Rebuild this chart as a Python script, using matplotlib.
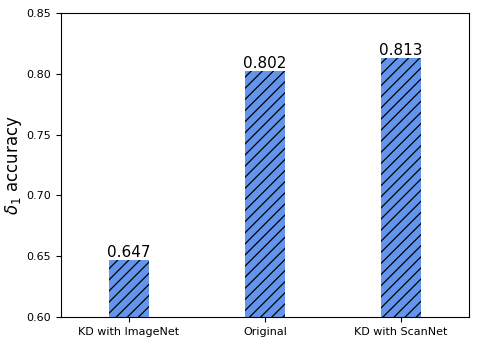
import matplotlib
matplotlib.use("Agg")
import matplotlib.pyplot as plt

plt.rcParams["hatch.linewidth"] = 0.9

categories = ["KD with ImageNet", "Original", "KD with ScanNet"]
values = [0.647, 0.802, 0.813]
labels = ["0.647", "0.802", "0.813"]

fig = plt.figure(figsize=(4.82, 3.45), dpi=100)
ax = fig.add_axes([61/482, 1-317/345, 408/482, 304/345])
bars = ax.bar(range(len(categories)), values, width=0.3, color="cornflowerblue",
              hatch="///", edgecolor="black", linewidth=0)
for i, (v, l) in enumerate(zip(values, labels)):
    ax.text(i, v, l, ha="center", va="bottom", fontsize=11)
ax.set_xlim(-0.5, 2.5)
ax.set_ylim(0.60, 0.85)
ax.set_xticks(range(len(categories)))
ax.set_xticklabels(categories, fontsize=8)
ax.set_yticks([0.60, 0.65, 0.70, 0.75, 0.80, 0.85])
ax.tick_params(axis="y", labelsize=8)
ax.set_ylabel(r"$\delta_1$ accuracy", fontsize=12, labelpad=2)
fig.savefig("out.png", dpi=100)
